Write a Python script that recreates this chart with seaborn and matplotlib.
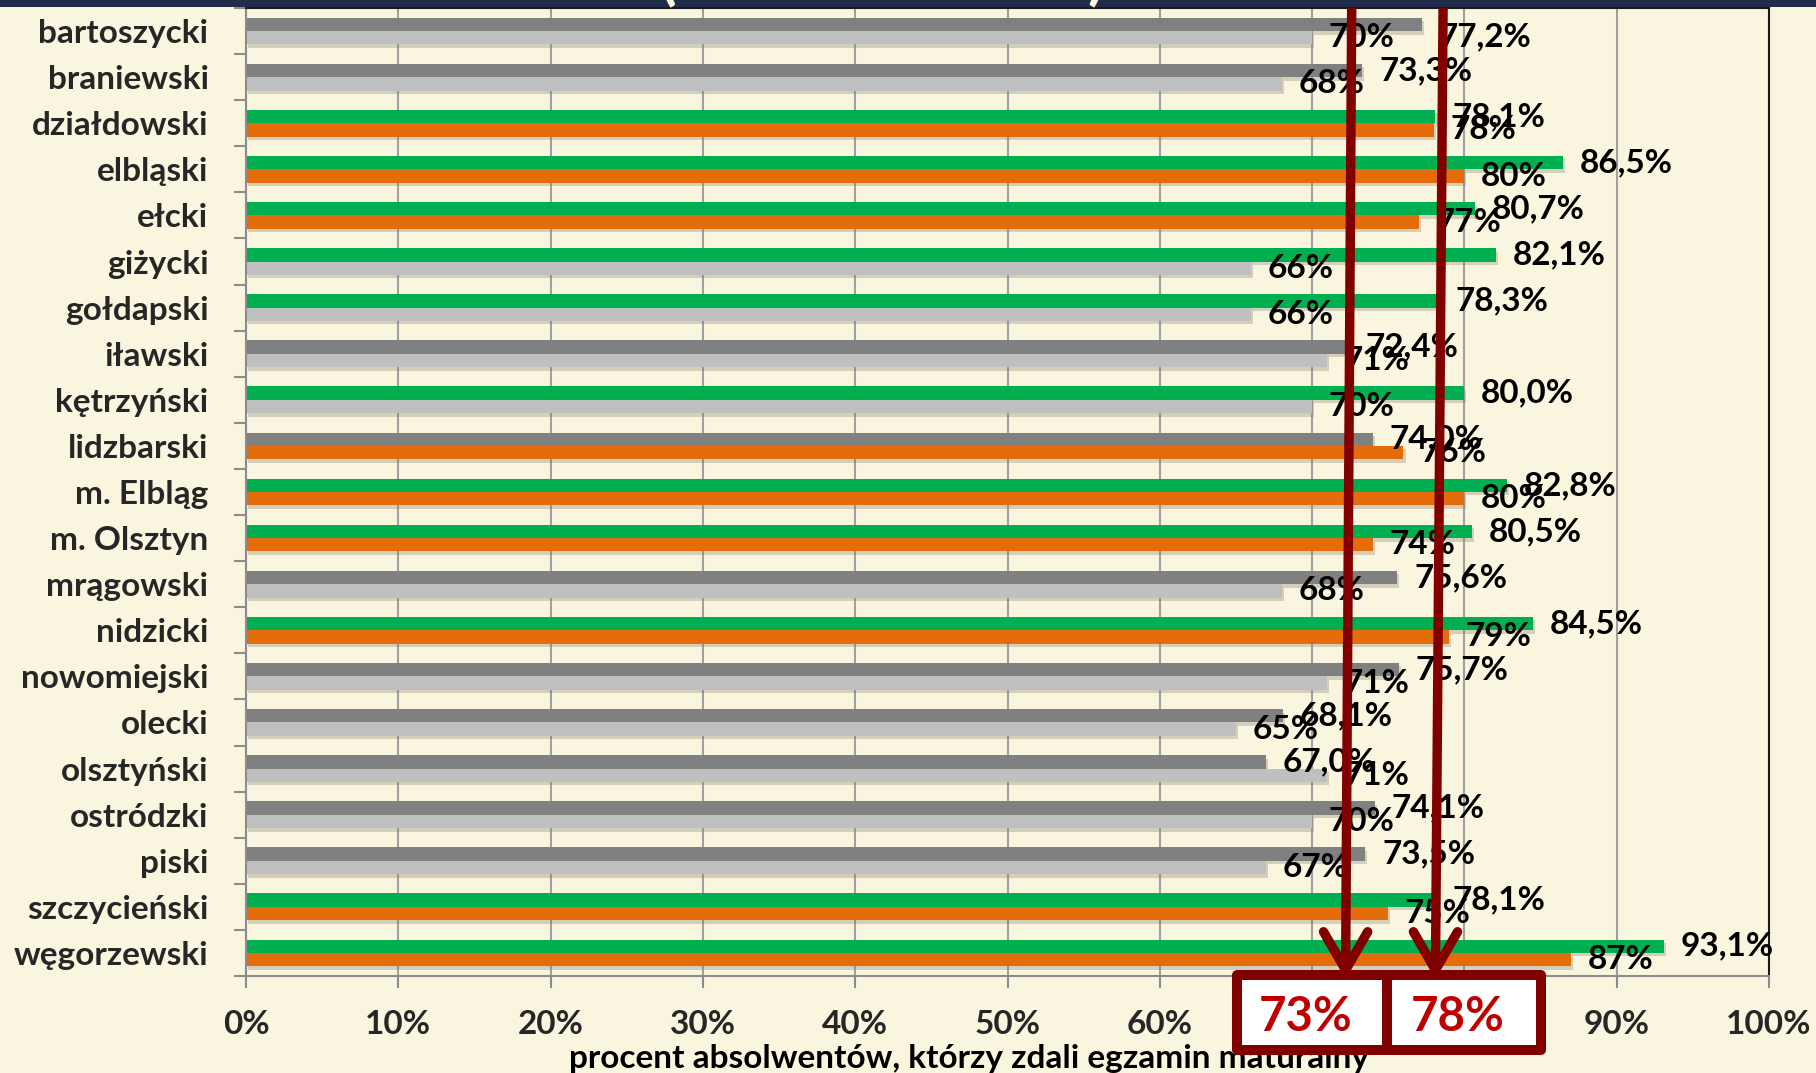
import numpy as np
import pandas as pd
import seaborn as sns
import matplotlib.pyplot as plt
from matplotlib import patheffects
from matplotlib.patches import Rectangle

sns.set_theme(style="white")
plt.rcParams['font.family'] = ['Lato', 'DejaVu Sans']
plt.rcParams['font.weight'] = 'bold'

powiaty = ["bartoszycki", "braniewski", "działdowski", "elbląski", "ełcki", "giżycki",
           "gołdapski", "iławski", "kętrzyński", "lidzbarski", "m. Elbląg", "m. Olsztyn",
           "mrągowski", "nidzicki", "nowomiejski", "olecki", "olsztyński", "ostródzki",
           "piski", "szczycieński", "węgorzewski"]
# gorny pasek (z jednym miejscem po przecinku) i dolny pasek
wynik_gorny = [77.2, 73.3, 78.1, 86.5, 80.7, 82.1, 78.3, 72.4, 80.0, 74.0, 82.8,
               80.5, 75.6, 84.5, 75.7, 68.1, 67.0, 74.1, 73.5, 78.1, 93.1]
wynik_dolny = [70, 68, 78, 80, 77, 66, 66, 71, 70, 76, 80,
               74, 68, 79, 71, 65, 71, 70, 67, 75, 87]
progi = [73, 78]
strzalki_gora = [72.6, 78.6]
strzalki_dol = [72.2, 78.1]
xticks = list(range(0, 101, 10))

TLO = "#FAF5DF"
CZERWONY = "#800000"

df = pd.DataFrame({
    "powiat": powiaty * 2,
    "seria": ["gorny"] * len(powiaty) + ["dolny"] * len(powiaty),
    "wartosc": wynik_gorny + wynik_dolny,
})

fig = plt.figure(figsize=(18.16, 10.73), dpi=100, facecolor=TLO)
ax = fig.add_axes([246 / 1816, 1 - 976 / 1073, 1523 / 1816, 968 / 1073])
ax.set_facecolor(TLO)

sns.barplot(data=df, x="wartosc", y="powiat", hue="seria", orient="h", width=0.58,
            dodge=True, saturation=1, errorbar=None, legend=False, ax=ax)

cien = [patheffects.SimplePatchShadow(offset=(1.5, -2.5), shadow_rgbFace="#7d7a6a", alpha=0.3),
        patheffects.Normal()]
for bar, v in zip(ax.containers[0], wynik_gorny):
    bar.set_facecolor("#00B050" if v >= progi[1] else "#808080")
    bar.set_edgecolor("none")
    bar.set_path_effects(cien)
for bar, v in zip(ax.containers[1], wynik_dolny):
    bar.set_facecolor("#E46C0A" if v >= progi[0] else "#BFBFBF")
    bar.set_edgecolor("none")
    bar.set_path_effects(cien)

etykiety_g = [f"{v:.1f}%".replace(".", ",") for v in wynik_gorny]
etykiety_d = [f"{v:.0f}%" for v in wynik_dolny]
tg = ax.bar_label(ax.containers[0], labels=etykiety_g, padding=12, fontsize=24,
                  fontweight="bold", color="black", zorder=4)
ax.bar_label(ax.containers[1], labels=etykiety_d, padding=12, fontsize=24,
             fontweight="bold", color="black", zorder=4)
tg[0].xyann = (12, -9)

ax.set_xlim(0, 100)
ax.set_ylim(len(powiaty) - 0.5, -0.5)
ax.set_xticks(xticks)
ax.set_xticklabels([f"{t}%" for t in xticks], fontsize=24, fontweight="bold")
ax.set_yticks(range(len(powiaty)))
ax.set_yticklabels(powiaty, fontsize=24, fontweight="bold")
ax.set_yticks(np.arange(-0.5, len(powiaty), 1), minor=True)
ax.tick_params(axis="y", which="major", length=0, pad=27)
ax.tick_params(axis="y", which="minor", left=True, length=8.5, width=1.5, color="#8c8c8c")
ax.tick_params(axis="x", which="major", bottom=True, length=8.5, width=1.5, color="#8c8c8c", pad=16)
ax.set_ylabel("")
ax.xaxis.grid(True, color="#a0a0a0", lw=1.5)
ax.set_axisbelow(True)
for s in ["left", "bottom"]:
    ax.spines[s].set_color("#8c8c8c")
    ax.spines[s].set_linewidth(1.5)
for s in ["top", "right"]:
    ax.spines[s].set_color("#1a1a1a")
    ax.spines[s].set_linewidth(1.5)

ax.set_xlabel("procent absolwentów, którzy zdali egzamin maturalny", fontsize=24,
              fontweight="bold", color="black")
ax.xaxis.set_label_coords(0.4747, -0.095)
ax.xaxis.label.set_va("baseline")

# strzalki progow
grot_y = 20.37
ramie_y = 19.54
for xg, xd in zip(strzalki_gora, strzalki_dol):
    ax.plot([xg, xd], [-0.5, grot_y], color=CZERWONY, lw=6.8, solid_capstyle="butt",
            clip_on=False, zorder=6)
    ax.plot([xd - 1.45, xd, xd + 1.45], [ramie_y, grot_y, ramie_y], color=CZERWONY, lw=6.8,
            solid_capstyle="round", solid_joinstyle="round", clip_on=False, zorder=6)

# ramki z progami
tr = ax.get_xaxis_transform()
ramki = [(65.1, 74.9), (74.9, 85.0)]
for (x0, x1), p in zip(ramki, progi):
    r = Rectangle((x0, -0.0764), x1 - x0, 0.0774, transform=tr, facecolor="white",
                  edgecolor=CZERWONY, lw=7.2, joinstyle="round", clip_on=False, zorder=7)
    ax.add_patch(r)
    ax.text((x0 + x1) / 2 - 0.4, -0.0424, f"{p}%", transform=tr, ha="center", va="center",
            fontsize=34, fontweight="bold", color="#C00000", zorder=8, clip_on=False)

# pasek tytulu u gory
fig.add_artist(Rectangle((0, 1 - 7 / 1073), 1, 7 / 1073, transform=fig.transFigure,
                         facecolor="#1F2D4B", edgecolor="none"))
fig.text(668 / 1816, 1 - 7 / 1073, "(", fontsize=44, color=TLO, ha="center", va="bottom")
fig.text(1096 / 1816, 1 - 7 / 1073, ")", fontsize=44, color=TLO, ha="center", va="bottom")

fig.savefig("out.png", dpi=100, facecolor=TLO)
